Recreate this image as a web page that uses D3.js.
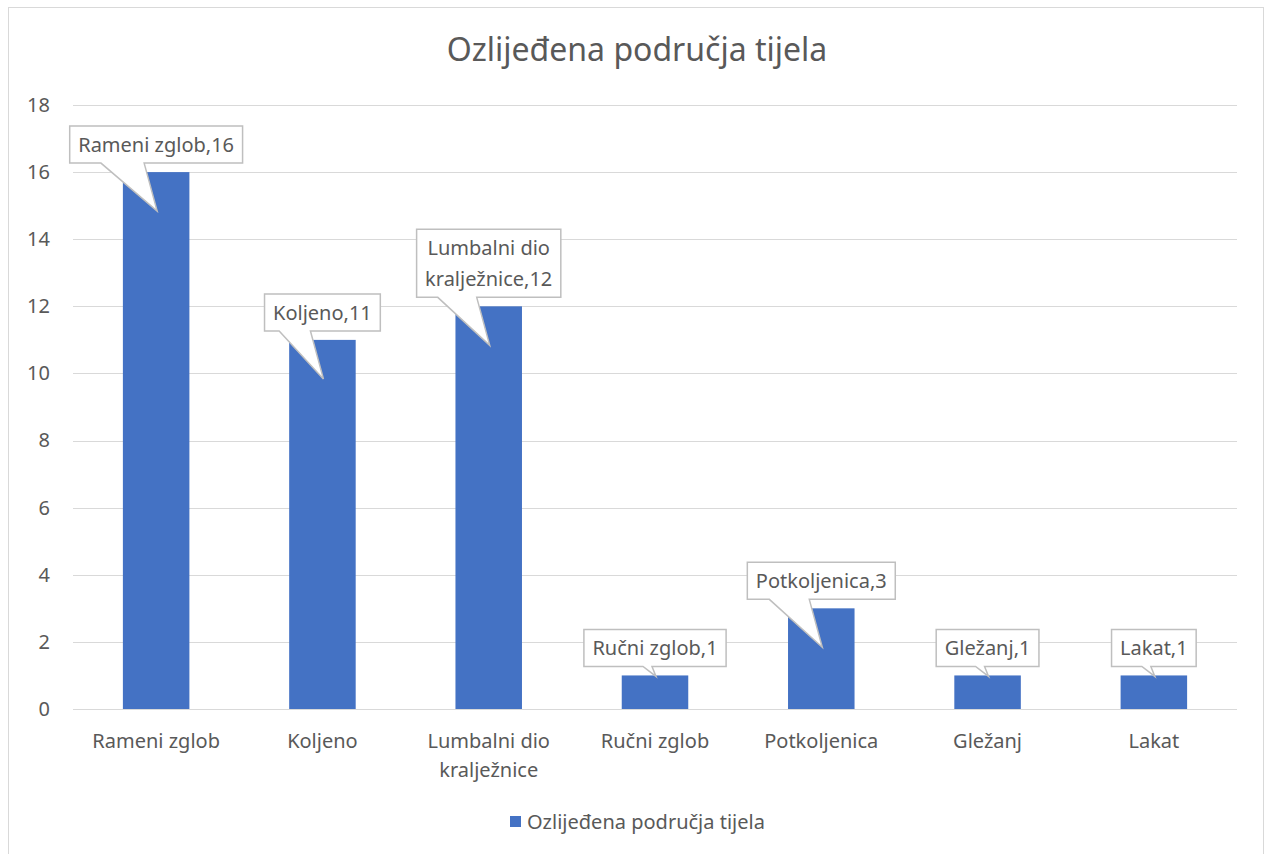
<!DOCTYPE html>
<html>
  <head>
    <script src="https://d3js.org/d3.v7.min.js"></script>
    <style>
      body { margin: 0; background: #fff; }
      svg { display: block; }
      text { font-family: "Noto Sans", "Open Sans", sans-serif; fill: #595959; }
    </style>
  </head>
  <body>
    <svg width="1266" height="854"></svg>
    <script>
      const categories = ["Rameni zglob", "Koljeno", "Lumbalni dio kralježnice", "Ručni zglob", "Potkoljenica", "Gležanj", "Lakat"];
      const values = [16, 11, 12, 1, 3, 1, 1];
      const yTicks = [0, 2, 4, 6, 8, 10, 12, 14, 16, 18];
      const seriesName = "Ozlijeđena područja tijela";
      const title = "Ozlijeđena područja tijela";

      // category labels wrap like Excel does
      const catLines = {
        "Lumbalni dio kralježnice": ["Lumbalni dio", "kralježnice"]
      };
      const calloutLines = {
        "Lumbalni dio kralježnice": ["Lumbalni dio", "kralježnice,12"]
      };

      const svg = d3.select("svg");
      const margin = { left: 73, right: 1237, top: 105, bottom: 709 };
      const fs = 20;

      // chart border
      svg.append("rect")
        .attr("x", 8.5).attr("y", 7.5)
        .attr("width", 1255).attr("height", 860)
        .attr("fill", "#fff").attr("stroke", "#d9d9d9");

      const x = d3.scaleBand().domain(categories)
        .range([margin.left, margin.right])
        .paddingInner(0.6).paddingOuter(0.3);
      const y = d3.scaleLinear().domain([0, 18]).range([margin.bottom, margin.top]);

      svg.append("text")
        .attr("x", 637).attr("y", 61)
        .attr("text-anchor", "middle")
        .attr("font-size", 32)
        .text(title);

      // gridlines
      svg.append("g").selectAll("line").data(yTicks).join("line")
        .attr("x1", margin.left).attr("x2", margin.right)
        .attr("y1", d => Math.round(y(d)) + 0.5).attr("y2", d => Math.round(y(d)) + 0.5)
        .attr("stroke", "#d9d9d9").attr("stroke-width", 1);

      // y axis labels
      const yAxis = svg.append("g")
        .attr("transform", `translate(${margin.left},0)`)
        .call(d3.axisLeft(y).tickValues(yTicks).tickSize(0).tickPadding(23));
      yAxis.select(".domain").remove();
      yAxis.selectAll("text")
        .attr("font-size", fs).attr("font-family", null).attr("fill", "#595959");

      // bars
      svg.append("g").selectAll("rect").data(values).join("rect")
        .attr("x", (d, i) => x(categories[i]))
        .attr("width", x.bandwidth())
        .attr("y", d => y(d))
        .attr("height", d => y(0) - y(d))
        .attr("fill", "#4472c4");

      // category labels
      const catG = svg.append("g").selectAll("text").data(categories).join("text")
        .attr("x", d => x(d) + x.bandwidth() / 2)
        .attr("y", 748)
        .attr("text-anchor", "middle")
        .attr("font-size", fs);
      catG.selectAll("tspan").data(d => catLines[d] || [d]).join("tspan")
        .attr("x", function () { return d3.select(this.parentNode).attr("x"); })
        .attr("dy", (d, i) => i === 0 ? 0 : 29)
        .text(d => d);

      // data callouts
      const callouts = svg.append("g");
      values.forEach((v, i) => {
        const cat = categories[i];
        const cx = x(cat) + x.bandwidth() / 2;
        const top = y(v);
        const barH = y(0) - top;
        const lines = calloutLines[cat] || [cat + "," + v];
        const g = callouts.append("g");
        const t = g.append("text")
          .attr("text-anchor", "middle")
          .attr("font-size", fs);
        t.selectAll("tspan").data(lines).join("tspan")
          .attr("x", cx)
          .attr("dy", (d, j) => j === 0 ? 0 : 31)
          .text(d => d);
        const bb = t.node().getBBox();
        const w = bb.width + 17;
        const h = 37 + (lines.length - 1) * 31;
        const bottom = top - 9;
        const left = cx - w / 2;
        const boxTop = bottom - h;
        t.attr("y", boxTop + 26);
        // tail
        const tipY = top + Math.min(39, Math.max(1, barH - 33));
        const tail = tipY - bottom;
        const bR = cx - Math.min(12, tail * 0.3);
        const bL = bR - Math.min(w * 0.27, tail * 0.9);
        const path = d3.path();
        path.moveTo(left, boxTop);
        path.lineTo(left + w, boxTop);
        path.lineTo(left + w, bottom);
        path.lineTo(bR, bottom);
        path.lineTo(cx + 1, tipY);
        path.lineTo(bL, bottom);
        path.lineTo(left, bottom);
        path.closePath();
        g.insert("path", "text")
          .attr("d", path.toString())
          .attr("fill", "#fff")
          .attr("stroke", "#bfbfbf")
          .attr("stroke-width", 1.5);
      });

      // legend
      const legend = svg.append("g");
      legend.append("rect")
        .attr("x", 510).attr("y", 816)
        .attr("width", 11).attr("height", 11)
        .attr("fill", "#4472c4");
      legend.append("text")
        .attr("x", 527).attr("y", 829)
        .attr("font-size", fs)
        .text(seriesName);
    </script>
  </body>
</html>
